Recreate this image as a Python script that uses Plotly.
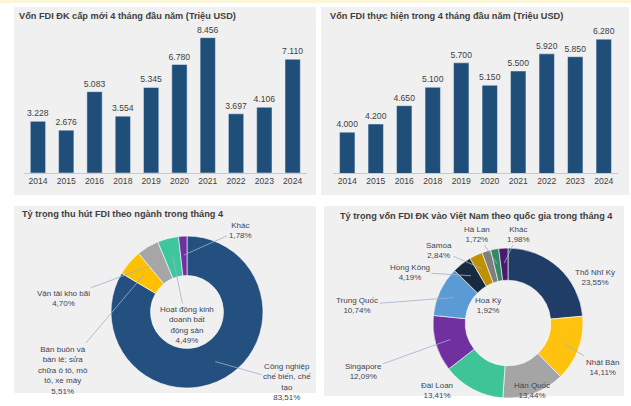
import math
import plotly.graph_objects as go

W, H = 631, 406

# ---------------- data ----------------
years = ["2014", "2015", "2016", "2018", "2019", "2020", "2021", "2022", "2023", "2024"]
fdi_registered = [3228, 2676, 5083, 3554, 5345, 6780, 8456, 3697, 4106, 7110]
fdi_disbursed = [4000, 4200, 4650, 5100, 5700, 5150, 5500, 5920, 5850, 6280]

sector_labels = [
    "Công nghiệp<br>chế biến, chế<br>tạo",
    "Bán buôn và<br>bán lẻ; sửa<br>chữa ô tô, mô<br>tô, xe máy",
    "Vận tải kho bãi",
    "Hoạt động kinh<br>doanh bất<br>động sản",
    "Khác",
]
sector_shares = [83.51, 5.51, 4.70, 4.49, 1.78]

country_labels = ["Thổ Nhĩ Kỳ", "Nhật Bản", "Hàn Quốc", "Đài Loan", "Singapore",
                  "Trung Quốc", "Hồng Kông", "Samoa", "Hoa Kỳ", "Hà Lan", "Khác"]
country_shares = [23.55, 14.11, 13.44, 13.41, 12.09, 10.74, 4.19, 2.84, 1.92, 1.72, 1.98]

titles = [
    "Vốn FDI ĐK cấp mới 4 tháng đầu năm (Triệu USD)",
    "Vốn FDI thực hiện trong 4 tháng đầu năm (Triệu USD)",
    "Tỷ trọng thu hút FDI theo ngành trong tháng 4",
    "Tỷ trọng vốn FDI ĐK vào Việt Nam theo quốc gia trong tháng 4",
]

# ---------------- style / layout ----------------
FONT = "Arial, Liberation Sans, sans-serif"
NAVY = "#1f4e79"
TXT = "#404040"
LBL = "#3d4555"
LINE = "#9fb1c9"
PANEL = "#f0f0f0"

sector_colors = ["#24507f", "#ffc000", "#a6a6a6", "#3ec79c", "#7030a0"]
country_colors = ["#1f3d66", "#ffc20e", "#a5a5a5", "#3ec497", "#7030a0",
                  "#5b9bd5", "#172a40", "#bf9000", "#7f7f7f", "#2e8b63", "#4b1a70"]


def px(x):
    return x / W


def py(y):
    return 1 - y / H


fig = go.Figure()

# bar charts
for xa, ya, vals in (("x", "y", fdi_registered), ("x2", "y2", fdi_disbursed)):
    fig.add_trace(go.Bar(
        x=years, y=vals, xaxis=xa, yaxis=ya, marker_color=NAVY,
        texttemplate="%{y:,.0f}", textposition="outside", cliponaxis=False,
        constraintext="none",
        textfont=dict(size=8.6, color=TXT, family=FONT), showlegend=False,
    ))

# donuts
pie1 = dict(cx=187, cy=312, r=76)
pie2 = dict(cx=508, cy=323, r=75)

fig.add_trace(go.Pie(
    labels=[s.replace("<br>", " ") for s in sector_labels], values=sector_shares,
    hole=0.48, sort=False, direction="clockwise", rotation=0, textinfo="none",
    marker=dict(colors=sector_colors, line=dict(color="white", width=0.6)),
    domain=dict(x=[px(pie1["cx"] - pie1["r"]), px(pie1["cx"] + pie1["r"])],
                y=[py(pie1["cy"] + pie1["r"]), py(pie1["cy"] - pie1["r"])]),
    showlegend=False,
))
fig.add_trace(go.Pie(
    labels=country_labels, values=country_shares,
    hole=0.57, sort=False, direction="clockwise", rotation=0, textinfo="none",
    marker=dict(colors=country_colors, line=dict(color="white", width=0.6)),
    domain=dict(x=[px(pie2["cx"] - pie2["r"]), px(pie2["cx"] + pie2["r"])],
                y=[py(pie2["cy"] + pie2["r"]), py(pie2["cy"] - pie2["r"])]),
    showlegend=False,
))

# ---------------- annotations ----------------
ann = []
title_pos = [(17, 16), (328, 16), (20, 214), (338, 216)]
for t, (x, y) in zip(titles, title_pos):
    ann.append(dict(text="<b>%s</b>" % t, x=px(x), y=py(y), xref="paper", yref="paper",
                    xanchor="left", yanchor="middle", showarrow=False,
                    font=dict(size=9.2, color=TXT, family=FONT)))


def pct(v):
    return ("%.2f" % v).replace(".", ",") + "%"


def slice_anchor(values, i, cx, cy, rr):
    tot = sum(values)
    mid = (sum(values[:i]) + values[i] / 2) / tot * 2 * math.pi
    return cx + rr * math.sin(mid), cy - rr * math.cos(mid)


def add_pie_labels(labels, values, pos, conn, cx, cy, rr):
    for i, lab in enumerate(labels):
        lx, ly = pos[i]
        text = lab + "<br>" + pct(values[i])
        if conn[i]:
            axp, ayp = slice_anchor(values, i, cx, cy, rr)
            ann.append(dict(text=text, x=px(axp), y=py(ayp), xref="paper", yref="paper",
                            ax=lx - axp, ay=ly - ayp, showarrow=True, arrowhead=0,
                            arrowwidth=0.8, arrowcolor=LINE, standoff=0,
                            font=dict(size=8, color=LBL, family=FONT)))
        else:
            ann.append(dict(text=text, x=px(lx), y=py(ly), xref="paper", yref="paper",
                            showarrow=False, xanchor="center", yanchor="middle",
                            font=dict(size=8, color=LBL, family=FONT)))


sector_pos = [(287, 382), (63, 370), (63, 298), (187, 325), (240, 230)]
sector_conn = [True, True, True, True, True]
add_pie_labels(sector_labels, sector_shares, sector_pos, sector_conn,
               pie1["cx"], pie1["cy"], 57)

country_pos = [(595, 277), (602, 367), (532, 390), (437, 390), (363, 371),
               (357, 305), (410, 272), (439, 250), (488, 305), (477, 234), (518, 234)]
country_conn = [False, True, False, False, True, True, True, True, False, True, True]
add_pie_labels(country_labels, country_shares, country_pos, country_conn,
               pie2["cx"], pie2["cy"], 60)

# ---------------- panels ----------------
panels = [(14, 7, 316, 195), (321, 7, 629, 195), (14, 206, 316, 393), (324, 206, 624, 396)]
shapes = [dict(type="rect", xref="paper", yref="paper", x0=0, x1=1, y0=py(3), y1=1,
               fillcolor="#fbf5da", line=dict(width=0), layer="below")]
for x0, y0, x1, y1 in panels:
    shapes.append(dict(type="rect", xref="paper", yref="paper",
                       x0=px(x0), x1=px(x1), y0=py(y1), y1=py(y0),
                       fillcolor=PANEL, line=dict(width=0), layer="below"))

axis_common = dict(type="category", showline=True, linecolor="#c9c9c9", linewidth=1,
                   ticks="", showgrid=False, zeroline=False,
                   tickfont=dict(size=8.6, color=TXT, family=FONT), fixedrange=True)

fig.update_layout(
    width=W, height=H, margin=dict(l=0, r=0, t=0, b=0),
    paper_bgcolor="white", plot_bgcolor="rgba(0,0,0,0)",
    separators=",.", bargap=0.46, font=dict(family=FONT),
    xaxis=dict(domain=[px(23.8), px(306.8)], anchor="y", **axis_common),
    yaxis=dict(domain=[py(173), py(30)], range=[0, 8937], visible=False, anchor="x"),
    xaxis2=dict(domain=[px(333), px(618)], anchor="y2", **axis_common),
    yaxis2=dict(domain=[py(173), py(30)], range=[3000, 6505], visible=False, anchor="x2"),
    annotations=ann, shapes=shapes,
)

fig.write_html("out.html")
